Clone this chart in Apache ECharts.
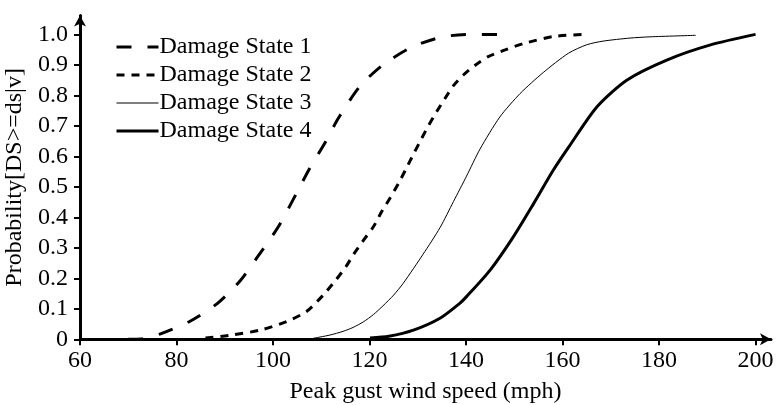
<!DOCTYPE html>
<html>
<head>
<meta charset="utf-8">
<script src="https://cdn.jsdelivr.net/npm/echarts@6/dist/echarts.min.js"></script>
<style>
html,body{margin:0;padding:0;background:#fff;}
#chart{width:777px;height:405px;}
</style>
</head>
<body>
<div id="chart"></div>
<script>
// ---- data ----
const seriesNames = ['Damage State 1', 'Damage State 2', 'Damage State 3', 'Damage State 4'];

const ds1Speed = [70, 73, 76.7, 82.9, 88.5, 93.2, 96.6, 101.1, 104.9, 107.5, 110.9, 113.5, 118.0, 122.8, 128.6, 135.1, 141.5, 149];
const ds1Prob  = [0, 0.002, 0.018, 0.06, 0.118, 0.192, 0.266, 0.369, 0.48, 0.558, 0.648, 0.724, 0.83, 0.9, 0.957, 0.992, 1.0, 1.0];

const ds2Speed = [86, 91.1, 97.3, 102.8, 107, 110.4, 113.0, 115.1, 116.8, 118.8, 120.8, 122.5, 124.2, 126.0, 127.6, 129.2, 130.8, 132.3, 133.9, 135.6, 137.4, 139.4, 141.9, 144.6, 148.1, 151.9, 158.1, 164.3];
const ds2Prob  = [0.004, 0.013, 0.03, 0.058, 0.092, 0.145, 0.194, 0.238, 0.281, 0.326, 0.369, 0.418, 0.462, 0.511, 0.56, 0.61, 0.659, 0.703, 0.746, 0.789, 0.832, 0.866, 0.899, 0.927, 0.949, 0.97, 0.993, 1.0];

const ds3Speed = [108.3, 111.8, 114.5, 116.6, 118.7, 120.8, 122.8, 125.0, 127.0, 131.1, 134.6, 137.4, 140.1, 142.9, 147.0, 151.2, 156.0, 161.2, 165, 168.4, 174.0, 178.1, 187.6];
const ds3Prob  = [0.003, 0.014, 0.026, 0.039, 0.057, 0.081, 0.11, 0.145, 0.184, 0.279, 0.366, 0.452, 0.535, 0.624, 0.729, 0.806, 0.875, 0.938, 0.966, 0.978, 0.988, 0.992, 0.997];

const ds4Speed = [120.1, 124, 129.1, 134.6, 138.7, 140.1, 145.0, 149.8, 154.0, 158.1, 161.3, 167.1, 173.3, 181.6, 190.5, 200];
const ds4Prob  = [0.004, 0.01, 0.03, 0.069, 0.118, 0.14, 0.227, 0.336, 0.445, 0.555, 0.631, 0.762, 0.85, 0.916, 0.965, 1.0];

const xTicks = [60, 80, 100, 120, 140, 160, 180, 200];
const yTicks = [0, 0.1, 0.2, 0.3, 0.4, 0.5, 0.6, 0.7, 0.8, 0.9, 1.0];

const xTitle = 'Peak gust wind speed (mph)';
const yTitle = 'Probability[DS>=ds|v]';

// ---- build ----
function zip(xs, ys) { return xs.map((x, i) => [x, ys[i]]); }

const FONT = 'Liberation Serif';
const styles = [
  { type: [15, 16], width: 3 },
  { type: [8, 7], width: 3 },
  { type: 'solid', width: 1 },
  { type: 'solid', width: 3 }
];
const dataSets = [zip(ds1Speed, ds1Prob), zip(ds2Speed, ds2Prob), zip(ds3Speed, ds3Prob), zip(ds4Speed, ds4Prob)];

const chart = echarts.init(document.getElementById('chart'), null, { renderer: 'canvas' });
chart.setOption({
  animation: false,
  backgroundColor: '#fff',
  grid: { left: 80, right: 6, top: 15.5, bottom: 65.7, containLabel: false, outerBoundsMode: 'none' },
  legend: {
    orient: 'vertical',
    left: 115,
    top: 35,
    padding: 0,
    itemWidth: 42,
    itemHeight: 14,
    itemGap: 4,
    itemStyle: { opacity: 0 },
    textStyle: { fontFamily: FONT, fontSize: 24, color: '#000', lineHeight: 24, padding: [0, 0, 0, -4] },
    data: seriesNames.map((n, i) => ({
      name: n,
      itemStyle: { opacity: 0 },
      lineStyle: { color: '#000', width: styles[i].width, type: styles[i].type }
    }))
  },
  xAxis: {
    type: 'value',
    min: 60,
    max: 203.2,
    interval: 20,
    name: xTitle,
    nameLocation: 'middle',
    nameGap: 40,
    nameTextStyle: { fontFamily: FONT, fontSize: 24, color: '#000' },
    splitLine: { show: false },
    axisLine: { lineStyle: { color: '#000', width: 3 }, symbol: ['none', 'arrow'], symbolSize: [9, 11] },
    axisTick: { show: true, length: 6, lineStyle: { color: '#000', width: 2 }, customValues: xTicks },
    axisLabel: { fontFamily: FONT, fontSize: 24, color: '#000', margin: 9, customValues: xTicks }
  },
  yAxis: {
    type: 'value',
    min: 0,
    max: 1.062,
    interval: 0.1,
    name: yTitle,
    nameLocation: 'middle',
    nameGap: 47,
    nameTextStyle: { fontFamily: FONT, fontSize: 24, color: '#000' },
    splitLine: { show: false },
    axisLine: { lineStyle: { color: '#000', width: 3 }, symbol: ['none', 'arrow'], symbolSize: [9, 11] },
    axisTick: { show: true, length: 6, lineStyle: { color: '#000', width: 2 }, customValues: yTicks },
    axisLabel: {
      fontFamily: FONT, fontSize: 24, color: '#000', margin: 12, customValues: yTicks,
      formatter: v => (v === 0 ? '0' : v.toFixed(1))
    }
  },
  series: seriesNames.map((name, i) => ({
    name: name,
    type: 'line',
    data: dataSets[i],
    smooth: 0.25,
    symbol: 'none',
    showSymbol: false,
    color: '#000',
    lineStyle: { color: '#000', width: styles[i].width, type: styles[i].type, cap: 'butt' },
    z: 3
  }))
});
</script>
</body>
</html>
